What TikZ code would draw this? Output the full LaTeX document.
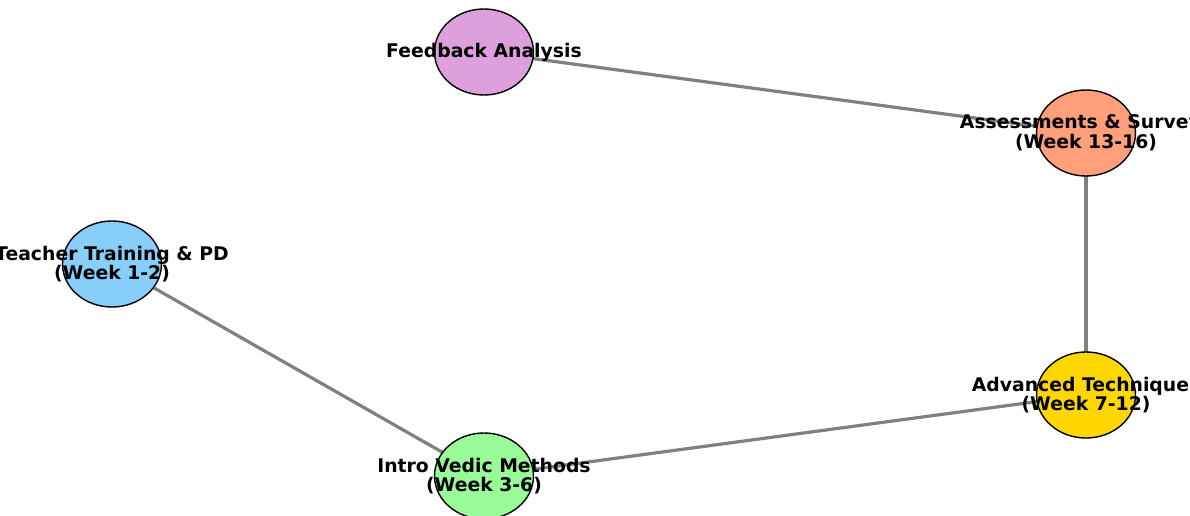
\documentclass[tikz,border=0pt]{standalone}
\usepackage{fontspec}
\setmainfont{DejaVu Sans}
\usetikzlibrary{shapes.geometric}
\definecolor{cplum}{HTML}{DDA0DD}
\definecolor{csalmon}{HTML}{FFA07A}
\definecolor{csky}{HTML}{87CEFA}
\definecolor{cgreen}{HTML}{98FB98}
\definecolor{cgold}{HTML}{FFD700}
\definecolor{cedge}{HTML}{808080}
\tikzset{
  circ/.style={ellipse, draw=black, line width=1.4pt, minimum width=99pt, minimum height=86pt, inner sep=0pt},
  lbl/.style={align=center, font=\bfseries\fontsize{18.8}{19.5}\selectfont, inner sep=0pt},
  edge/.style={draw=cedge, line width=3.2pt}
}
\begin{document}
\begin{tikzpicture}[x=1pt,y=-1pt]
\useasboundingbox (0,0) rectangle (1190,516);
\clip (0,0) rectangle (1190,516);
\coordinate (pf) at (484,52);
\coordinate (pa) at (1086,133);
\coordinate (pt) at (112,264);
\coordinate (pi) at (484,476);
\coordinate (pv) at (1086,395);
\draw[edge] (pf) -- (pa);
\draw[edge] (pa) -- (pv);
\draw[edge] (pv) -- (pi);
\draw[edge] (pi) -- (pt);
\node[circ, fill=cplum] (nf) at (pf) {};
\node[circ, fill=csalmon] (na) at (pa) {};
\node[circ, fill=csky] (nt) at (pt) {};
\node[circ, fill=cgreen] (ni) at (pi) {};
\node[circ, fill=cgold] (nv) at (pv) {};
\node[lbl] (lf) at (pf) {Feedback Analysis};
\node[lbl] (la) at (pa) {Assessments \& Surveys\\(Week 13-16)};
\node[lbl] (lt) at (pt) {Teacher Training \& PD\\(Week 1-2)};
\node[lbl] (li) at (pi) {Intro Vedic Methods\\(Week 3-6)};
\node[lbl] (lv) at (pv) {Advanced Techniques\\(Week 7-12)};
\end{tikzpicture}
\end{document}
